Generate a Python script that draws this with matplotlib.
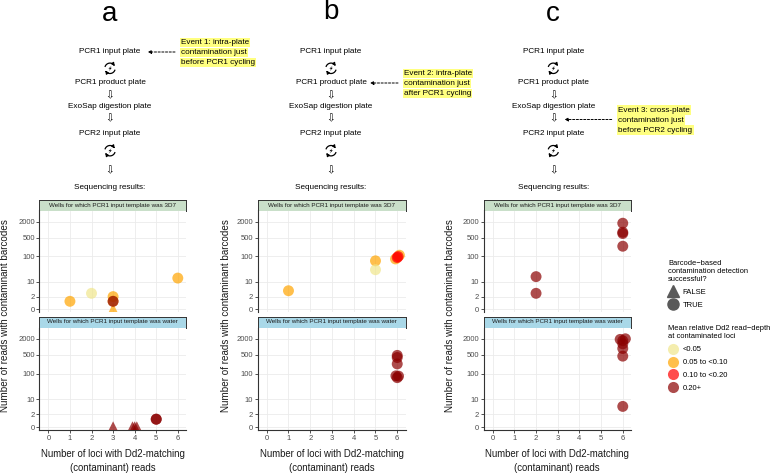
import numpy as np
import pandas as pd
import matplotlib
matplotlib.use('Agg')
import matplotlib.pyplot as plt
from matplotlib.lines import Line2D
from matplotlib.patches import Polygon

plt.rcParams['font.family'] = ['Liberation Sans', 'DejaVu Sans']

# ---- data ----
panel = ['a'] * 7 + ['a'] * 6 + ['b'] * 7 + ['b'] * 6 + ['c'] * 6 + ['c'] * 7
template = (['3D7'] * 7 + ['water'] * 6 + ['3D7'] * 7 + ['water'] * 6
            + ['3D7'] * 6 + ['water'] * 7)
loci = [1, 2, 3, 3, 3, 3, 6,
        3, 3.9, 4.0, 4.1, 5, 5,
        1, 5, 5, 5.92, 6.1, 6.0, 6.04,
        6, 6, 6, 5.94, 6.06, 6,
        2, 2, 6, 6, 6, 6,
        5.88, 6.12, 6, 6, 6, 6, 6]
reads = [1, 3, 2, 1, 1, 0, 14,
         0, 0, 0, 0, 1, 1,
         4, 66, 30, 78, 108, 88, 96,
         480, 400, 230, 82, 80, 70,
         16, 3, 1750, 800, 716, 237,
         1900, 2000, 1700, 1300, 870, 450, 5]
depth = ['0.05 to <0.10', '<0.05', '0.05 to <0.10', '0.05 to <0.10', '0.20+', '0.05 to <0.10', '0.05 to <0.10',
         '0.20+', '0.20+', '0.20+', '0.20+', '0.20+', '0.20+',
         '0.05 to <0.10', '0.05 to <0.10', '<0.05', '0.05 to <0.10', '0.05 to <0.10', '0.10 to <0.20', '0.10 to <0.20',
         '0.20+', '0.20+', '0.20+', '0.20+', '0.20+', '0.20+',
         '0.20+', '0.20+', '0.20+', '0.20+', '0.20+', '0.20+',
         '0.20+', '0.20+', '0.20+', '0.20+', '0.20+', '0.20+', '0.20+']
detected = [True, True, True, True, True, False, True,
            False, False, False, False, True, True,
            True, True, True, True, True, True, True,
            True, True, True, True, True, True,
            True, True, True, True, True, True,
            True, True, True, True, True, True, True]

depth_levels = ['<0.05', '0.05 to <0.10', '0.10 to <0.20', '0.20+']
depth_colors = ['khaki', 'orange', 'red', 'darkred']
x_ticks = [0, 1, 2, 3, 4, 5, 6]
y_ticks = [0, 2, 10, 100, 500, 2000]

strip_labels = {'3D7': 'Wells for which PCR1 input template was 3D7',
                'water': 'Wells for which PCR1 input template was water'}
strip_fill = {'3D7': '#C9DFC9', 'water': '#A9D8E8'}

events = {'a': ['Event 1: intra-plate', 'contamination just', 'before PCR1 cycling'],
          'b': ['Event 2: intra-plate', 'contamination just', 'after PCR1 cycling'],
          'c': ['Event 3: cross-plate', 'contamination just', 'before PCR2 cycling']}

df = pd.DataFrame({'panel': panel, 'template': template, 'loci': loci,
                   'reads': reads, 'depth': depth, 'detected': detected})
cmap = dict(zip(depth_levels, depth_colors))

W, H = 772, 476
fig = plt.figure(figsize=(W / 100, H / 100), dpi=100)


def box(l, t, r, b):
    return [l / W, 1 - b / H, (r - l) / W, (b - t) / H]


# overlay in pixel units for the flow chart
ov = fig.add_axes([0, 0, 1, 1])
ov.set_xlim(0, W)
ov.set_ylim(H, 0)
ov.set_autoscale_on(False)
ov.axis('off')


def fwd(v):
    return np.log10(np.maximum(np.asarray(v, dtype=float) + 1, 1e-6))


def inv(t):
    return 10 ** np.asarray(t, dtype=float) - 1


def cycle_icon(cx, cy, r=5.2):
    # two curved arrows round a small bolt
    for a0, a1 in [(165, 25), (-15, -155)]:
        th = np.radians(np.linspace(a0, a1, 30))
        xs = cx + r * np.cos(th)
        ys = cy - r * np.sin(th)
        ov.plot(xs[:-4], ys[:-4], color='black', lw=0.9, solid_capstyle='butt')
        ov.annotate('', xy=(xs[-1], ys[-1]), xytext=(xs[-5], ys[-5]),
                    arrowprops=dict(arrowstyle='-|>', color='black', lw=0.8,
                                    mutation_scale=4.5, shrinkA=0, shrinkB=0))
    bolt = [(cx + 1.6, cy - 2.6), (cx - 1.6, cy + 0.4), (cx + 0.1, cy + 0.4),
            (cx - 1.1, cy + 2.8), (cx + 1.8, cy - 0.5), (cx + 0.1, cy - 0.5)]
    ov.add_patch(Polygon(bolt, closed=True, color='black', lw=0))


centers = {'a': 110, 'b': 331, 'c': 553.3}
letter_y = {'a': 14, 'b': 12, 'c': 14}
event_pos = {'a': (181, 42.5, 175, 147.7, 52),
             'b': (404, 73.5, 398, 370, 83),
             'c': (618.3, 110, 611.7, 564.5, 119.5)}
for p, cx in centers.items():
    ov.text(cx, letter_y[p], p, ha='center', va='center', fontsize=20)
    ov.text(cx, 51.7, 'PCR1 input plate', ha='center', va='center', fontsize=5.9)
    cycle_icon(cx, 68.3)
    ov.text(cx, 82.3, 'PCR1 product plate', ha='center', va='center', fontsize=5.9)
    ov.text(cx, 95.5, '\u21e9', ha='center', va='center', fontsize=7.5, family='DejaVu Sans')
    ov.text(cx, 106.7, 'ExoSap digestion plate', ha='center', va='center', fontsize=5.9)
    ov.text(cx, 118.3, '\u21e9', ha='center', va='center', fontsize=7.5, family='DejaVu Sans')
    ov.text(cx, 133.3, 'PCR2 input plate', ha='center', va='center', fontsize=5.9)
    cycle_icon(cx, 150.7)
    ov.text(cx, 170, '\u21e9', ha='center', va='center', fontsize=7.5, family='DejaVu Sans')
    ov.text(cx, 187.3, 'Sequencing results:', ha='center', va='center', fontsize=5.9)

    ex, ey, ax0, ax1, ay = event_pos[p]
    for i, line in enumerate(events[p]):
        ov.text(ex, ey + i * 10, line, ha='left', va='center', fontsize=5.9,
                bbox=dict(boxstyle='square,pad=0.15', facecolor='#FFFF80', edgecolor='none'))
    ov.annotate('', xy=(ax1, ay), xytext=(ax0, ay),
                arrowprops=dict(arrowstyle='-|>', linestyle=(0, (2.2, 1.6)), lw=0.7,
                                color='black', mutation_scale=5, shrinkA=0, shrinkB=0))

# ---- scatter panels ----
lefts = {'a': (39.3, 186), 'b': (257.6, 405.5), 'c': (483.6, 631)}
rows = {'3D7': (199.5, 210.5, 312), 'water': (316.5, 327.5, 430)}
ylo, yhi = inv(-0.102), inv(3.723)

for p, (l, r) in lefts.items():
    for tmpl, (st, pt, pb) in rows.items():
        sax = fig.add_axes(box(l, st, r, pt))
        sax.set_facecolor(strip_fill[tmpl])
        sax.set_xticks([])
        sax.set_yticks([])
        for s in sax.spines.values():
            s.set_linewidth(0.7)
            s.set_color('#333333')
        sax.text(0.5, 0.5, strip_labels[tmpl], ha='center', va='center',
                 fontsize=4.5, color='#1A1A1A', transform=sax.transAxes)

        ax = fig.add_axes(box(l, pt, r, pb))
        ax.set_yscale('function', functions=(fwd, inv))
        ax.set_xlim(-0.42, 6.38)
        ax.set_ylim(ylo, yhi)
        ax.set_xticks(x_ticks)
        ax.set_yticks(y_ticks)
        ax.set_yticklabels([str(v) for v in y_ticks])
        ax.minorticks_off()
        ax.grid(True, color='#EBEBEB', lw=0.6)
        ax.set_axisbelow(True)
        for s in ['top', 'right']:
            ax.spines[s].set_visible(False)
        ax.spines['left'].set_color('#333333')
        ax.spines['left'].set_linewidth(0.8)
        if tmpl == 'water':
            ax.spines['bottom'].set_color('#333333')
            ax.spines['bottom'].set_linewidth(0.8)
            ax.tick_params(axis='x', length=2.2, width=0.6, color='#333333', pad=1.5,
                           labelsize=5.5, labelcolor='#4D4D4D')
        else:
            ax.spines['bottom'].set_visible(False)
            ax.tick_params(axis='x', length=0, labelbottom=False)
        ax.tick_params(axis='y', length=2.2, width=0.6, color='#333333', pad=1,
                       labelsize=5.5, labelcolor='#4D4D4D')

        sub = df[(df.panel == p) & (df.template == tmpl)]
        for det, mk, sz in [(False, '^', 74), (True, 'o', 62)]:
            d = sub[sub.detected == det]
            if len(d):
                ax.scatter(d.loci, d.reads, s=sz, marker=mk,
                           c=[cmap[v] for v in d.depth], alpha=0.7,
                           edgecolors='none', zorder=3)

    fig.text(((l + r) / 2) / W, 1 - 461 / H,
             'Number of loci with Dd2-matching\n(contaminant) reads',
             ha='center', va='center', fontsize=6.9, color='#1A1A1A', linespacing=1.5)

for yx in [5, 226, 450]:
    fig.text(yx / W, 1 - 316 / H, 'Number of reads with contaminant barcodes',
             rotation=90, ha='center', va='center', fontsize=7.1, color='#1A1A1A')

# ---- legends ----
h_shape = [Line2D([], [], marker='^', ls='', color='#595959', markersize=9),
           Line2D([], [], marker='o', ls='', color='#595959', markersize=8)]
fig.legend(handles=h_shape, labels=['FALSE', 'TRUE'],
           title='Barcode\u2212based\ncontamination detection\nsuccessful?',
           loc='upper left', bbox_to_anchor=(668 / W, 1 - 260 / H),
           frameon=False, fontsize=5.5, title_fontsize=5.4, alignment='left',
           handlelength=1.4, handletextpad=0.5, labelspacing=0.72,
           borderpad=0, borderaxespad=0)
h_fill = [Line2D([], [], marker='o', ls='', color=c, alpha=0.7, markersize=8,
                 markeredgewidth=0) for c in depth_colors]
fig.legend(handles=h_fill, labels=depth_levels,
           title='Mean relative Dd2 read\u2212depth\nat contaminated loci',
           loc='upper left', bbox_to_anchor=(668 / W, 1 - 325.5 / H),
           frameon=False, fontsize=5.5, title_fontsize=5.4, alignment='left',
           handlelength=1.4, handletextpad=0.5, labelspacing=0.72,
           borderpad=0, borderaxespad=0)

fig.savefig('out.png', dpi=100)
